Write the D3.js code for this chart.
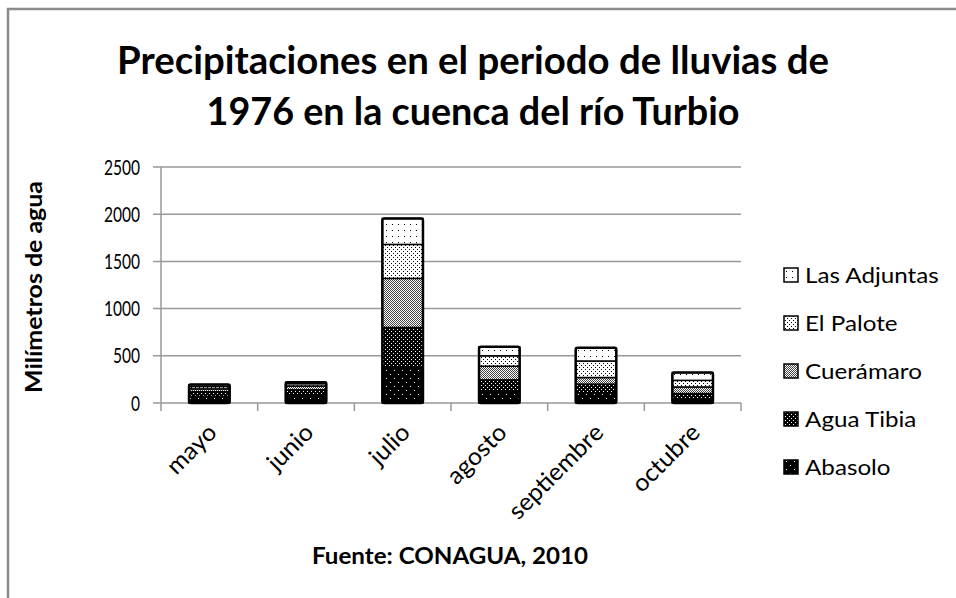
<!DOCTYPE html>
<html>
<head>
<meta charset="utf-8">
<script src="https://cdn.jsdelivr.net/npm/d3@7"></script>
<style>
  body { margin: 0; background: #fff; }
  text { font-family: Lato, "Open Sans", sans-serif; fill: #000; }
</style>
</head>
<body>
<div class="root"></div>
<script>
// data (mm of rain)
var months = ['mayo', 'junio', 'julio', 'agosto', 'septiembre', 'octubre'];
var stations = ['Abasolo', 'Agua Tibia', 'Cuerámaro', 'El Palote', 'Las Adjuntas'];
var abasolo     = [70, 80, 380, 120, 105, 45];
var aguaTibia   = [50, 60, 420, 125, 95, 55];
var cueramaro   = [30, 40, 520, 145, 70, 70];
var elPalote    = [25, 25, 360, 110, 175, 70];
var lasAdjuntas = [20, 15, 275, 95, 140, 82];
var yTicks = [0, 500, 1000, 1500, 2000, 2500];

var series = [abasolo, aguaTibia, cueramaro, elPalote, lasAdjuntas];
var rows = months.map(function(m, i) {
  var r = { month: m };
  stations.forEach(function(s, j) { r[s] = series[j][i]; });
  return r;
});

var w = 956, h = 598;
var margin = { left: 161, right: 215, top: 167, bottom: 195 };

var svg = d3.select('.root').append('svg')
  .attr('width', w).attr('height', h);

// squeeze text horizontally, the original font is narrow
function squeeze(sel, ratio) {
  sel.each(function() {
    var len = this.getComputedTextLength();
    d3.select(this).attr('textLength', len * ratio).attr('lengthAdjust', 'spacingAndGlyphs');
  });
}
function fit(sel, width) {
  sel.attr('textLength', width).attr('lengthAdjust', 'spacingAndGlyphs');
}

// patterns, one per station
var defs = svg.append('defs');
function dotPattern(id, size, bg, fg, dots) {
  var p = defs.append('pattern').attr('id', id)
    .attr('patternUnits', 'userSpaceOnUse')
    .attr('width', size).attr('height', size);
  p.append('rect').attr('width', size).attr('height', size).attr('fill', bg);
  dots.forEach(function(d) {
    p.append('rect').attr('x', d[0]).attr('y', d[1]).attr('width', 1).attr('height', 1).attr('fill', fg);
  });
}
dotPattern('p0', 8, '#000', '#fff', [[2, 2], [6, 6]]);
dotPattern('p1', 4, '#000', '#fff', [[1, 1], [3, 3]]);
dotPattern('p2', 2, '#fff', '#444', [[0, 0], [1, 1]]);
dotPattern('p3', 4, '#fff', '#000', [[1, 1], [3, 3]]);
dotPattern('p4', 6, '#fff', '#000', [[2, 2]]);

// outer frame
svg.append('rect')
  .attr('x', 8).attr('y', 9).attr('width', 960).attr('height', 600)
  .attr('fill', 'none').attr('stroke', '#8c8c8c').attr('stroke-width', 2.5);

var x = d3.scaleBand()
  .domain(months)
  .range([margin.left, w - margin.right])
  .paddingInner(0.58).paddingOuter(0.29);

var y = d3.scaleLinear()
  .domain([0, 2500])
  .range([h - margin.bottom, margin.top]);

// gridlines
svg.append('g')
  .selectAll('line')
  .data(yTicks)
  .enter().append('line')
    .attr('x1', margin.left - 8).attr('x2', w - margin.right)
    .attr('y1', function(d) { return y(d); })
    .attr('y2', function(d) { return y(d); })
    .attr('stroke', '#999').attr('stroke-width', 1.5);

// y axis line
svg.append('line')
  .attr('x1', margin.left).attr('x2', margin.left)
  .attr('y1', y(2500)).attr('y2', y(0))
  .attr('stroke', '#999').attr('stroke-width', 1.5);

// category tick marks
var step = x.step();
svg.append('g')
  .selectAll('line')
  .data(d3.range(months.length + 1))
  .enter().append('line')
    .attr('x1', function(i) { return margin.left + i * step; })
    .attr('x2', function(i) { return margin.left + i * step; })
    .attr('y1', y(0)).attr('y2', y(0) + 8)
    .attr('stroke', '#999').attr('stroke-width', 1.5);

// y tick labels
svg.append('g')
  .selectAll('text')
  .data(yTicks)
  .enter().append('text')
    .attr('x', margin.left - 21)
    .attr('y', function(d) { return y(d); })
    .attr('dy', '0.36em')
    .attr('text-anchor', 'end')
    .style('font-size', '21px')
    .text(function(d) { return d; })
    .call(squeeze, 0.74);

// stacked bars
var stack = d3.stack().keys(stations);
var layers = stack(rows);

svg.append('g')
  .selectAll('g')
  .data(layers)
  .enter().append('g')
    .attr('fill', function(d, i) { return 'url(#p' + i + ')'; })
  .selectAll('rect')
  .data(function(d) { return d; })
  .enter().append('rect')
    .attr('x', function(d) { return x(d.data.month); })
    .attr('y', function(d) { return y(d[1]); })
    .attr('width', x.bandwidth())
    .attr('height', function(d) { return y(d[0]) - y(d[1]); })
    .attr('stroke', '#000').attr('stroke-width', 1.5);

// bar outlines
svg.append('g')
  .selectAll('rect')
  .data(layers[layers.length - 1])
  .enter().append('rect')
    .attr('x', function(d) { return x(d.data.month); })
    .attr('y', function(d) { return y(d[1]); })
    .attr('width', x.bandwidth())
    .attr('height', function(d) { return y(0) - y(d[1]); })
    .attr('rx', 2)
    .attr('fill', 'none').attr('stroke', '#000').attr('stroke-width', 2.5);

// month labels, rotated
svg.append('g')
  .selectAll('text')
  .data(months)
  .enter().append('text')
    .attr('transform', function(d) {
      return 'translate(' + (x(d) + x.bandwidth() / 2 + 3) + ',' + (y(0) + 25) + ') rotate(-45)';
    })
    .attr('text-anchor', 'end')
    .attr('dy', '0.35em')
    .style('font-size', '24px')
    .text(function(d) { return d; })
    .call(squeeze, 1.04);

// axis title
svg.append('text')
  .attr('transform', 'translate(34,' + ((y(0) + y(2500)) / 2 + 2) + ') rotate(-90)')
  .attr('text-anchor', 'middle')
  .attr('dy', '0.35em')
  .style('font-size', '22px').style('font-weight', 'bold')
  .text('Milímetros de agua')
  .call(fit, 212);

// chart title
var title = ['Precipitaciones en el periodo de lluvias de', '1976 en la cuenca del río Turbio'];
var titleWidths = [712, 533];
svg.append('g')
  .selectAll('text')
  .data(title)
  .enter().append('text')
    .attr('x', 473)
    .attr('y', function(d, i) { return 74 + i * 51; })
    .attr('text-anchor', 'middle')
    .style('font-size', '39px').style('font-weight', 'bold')
    .text(function(d) { return d; })
    .attr('textLength', function(d, i) { return titleWidths[i]; })
    .attr('lengthAdjust', 'spacingAndGlyphs');

// source note
svg.append('text')
  .attr('x', 450).attr('y', 564)
  .attr('text-anchor', 'middle')
  .style('font-size', '22px').style('font-weight', 'bold')
  .text('Fuente: CONAGUA, 2010')
  .call(fit, 276);

// legend, top entry is the last series
var legend = svg.append('g')
  .selectAll('g')
  .data(stations.slice().reverse())
  .enter().append('g')
    .attr('transform', function(d, i) { return 'translate(784,' + (275 + i * 48) + ')'; });

legend.append('rect')
  .attr('x', 0).attr('y', -7).attr('width', 14).attr('height', 14)
  .attr('fill', function(d) { return 'url(#p' + stations.indexOf(d) + ')'; })
  .attr('stroke', '#000').attr('stroke-width', 1.5);

legend.append('text')
  .attr('x', 21).attr('dy', '0.36em')
  .style('font-size', '22px')
  .text(function(d) { return d; })
  .call(squeeze, 1.1);
</script>
</body>
</html>
